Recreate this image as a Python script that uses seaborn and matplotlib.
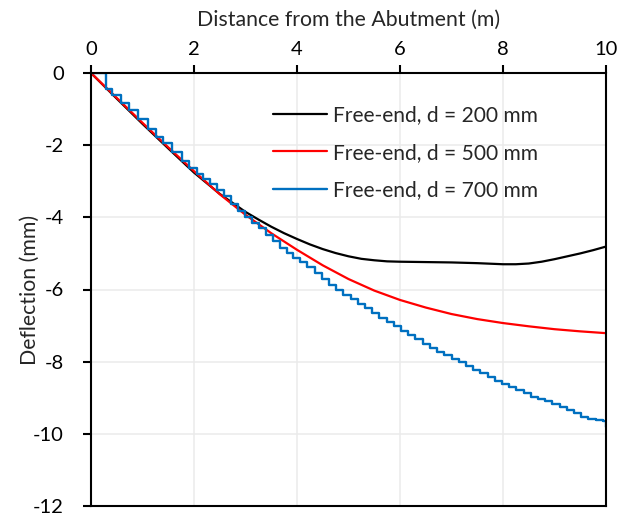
import numpy as np
import pandas as pd
import seaborn as sns
import matplotlib.pyplot as plt

# Deflection along the span for three slab depths (free-end case)
x_200 = [0, 0.5, 1, 1.5, 2, 2.5, 3, 3.25, 3.5, 3.75, 4, 4.25, 4.5, 4.75, 5, 5.25,
         5.5, 5.75, 6, 6.5, 7, 7.5, 8, 8.25, 8.5, 8.75, 9, 9.25, 9.5, 9.75, 10]
y_200 = [0, -0.71, -1.41, -2.09, -2.76, -3.35, -3.85, -4.06, -4.26, -4.44, -4.60,
         -4.75, -4.88, -4.99, -5.08, -5.15, -5.19, -5.22, -5.23, -5.24, -5.25, -5.27,
         -5.30, -5.30, -5.28, -5.23, -5.16, -5.08, -5.00, -4.91, -4.81]

x_500 = [0, 0.5, 1, 1.5, 2, 2.5, 3, 3.5, 4, 4.5, 5, 5.5, 6, 6.5, 7, 7.5, 8, 8.5,
         9, 9.5, 10]
y_500 = [0, -0.69, -1.38, -2.06, -2.72, -3.36, -3.93, -4.44, -4.90, -5.33, -5.71,
         -6.03, -6.29, -6.50, -6.68, -6.82, -6.93, -7.02, -7.10, -7.16, -7.21]

# d = 700 mm output is recorded in discrete increments (stepped trace)
x_700 = [0, 0.30, 0.41, 0.58, 0.74, 0.91, 1.11, 1.27, 1.40, 1.57, 1.76, 1.90, 2.05,
         2.18, 2.31, 2.45, 2.58, 2.72, 2.86, 2.99, 3.12, 3.26, 3.40, 3.53, 3.67, 3.80,
         3.93, 4.06, 4.20, 4.34, 4.48, 4.62, 4.76, 4.90, 5.04, 5.18, 5.32, 5.46, 5.60,
         5.74, 5.88, 6.02, 6.16, 6.30, 6.44, 6.58, 6.72, 6.86, 7.00, 7.14, 7.28, 7.42,
         7.56, 7.70, 7.84, 7.98, 8.12, 8.26, 8.40, 8.54, 8.68, 8.82, 8.96, 9.10, 9.24,
         9.38, 9.52, 9.66, 9.80, 9.94, 10.0]
y_700 = [0, -0.45, -0.60, -0.82, -1.03, -1.27, -1.55, -1.77, -1.95, -2.18, -2.44,
         -2.62, -2.80, -2.93, -3.08, -3.25, -3.42, -3.62, -3.82, -4.00, -4.15, -4.30,
         -4.50, -4.65, -4.85, -5.00, -5.12, -5.25, -5.38, -5.55, -5.72, -5.88, -6.02,
         -6.15, -6.27, -6.40, -6.52, -6.65, -6.78, -6.90, -7.02, -7.14, -7.26, -7.38,
         -7.50, -7.61, -7.72, -7.82, -7.92, -8.02, -8.12, -8.22, -8.32, -8.43, -8.53,
         -8.62, -8.70, -8.78, -8.88, -8.97, -9.04, -9.10, -9.17, -9.25, -9.33, -9.43,
         -9.53, -9.58, -9.62, -9.65, -9.80]

labels = ["Free-end, d = 200 mm", "Free-end, d = 500 mm", "Free-end, d = 700 mm"]
colors = ["#000000", "#FF0000", "#0070C0"]
x_ticks = [0, 2, 4, 6, 8, 10]
y_ticks = [-12, -10, -8, -6, -4, -2, 0]

sns.set_theme(style="white")
plt.rcParams["font.family"] = ["Lato", "DejaVu Sans"]
plt.rcParams["axes.unicode_minus"] = False

fig = plt.figure(figsize=(6.38, 5.15), dpi=100)
ax = fig.add_axes([91 / 638, 1 - 506 / 515, 515 / 638, 433 / 515])

df200 = pd.DataFrame({"x": x_200, "y": y_200})
df500 = pd.DataFrame({"x": x_500, "y": y_500})
df700 = pd.DataFrame({"x": x_700, "y": y_700})

sns.lineplot(data=df200, x="x", y="y", ax=ax, color=colors[0], lw=1.6,
             label=labels[0], estimator=None, sort=False)
sns.lineplot(data=df500, x="x", y="y", ax=ax, color=colors[1], lw=1.6,
             label=labels[1], estimator=None, sort=False)
sns.lineplot(data=df700, x="x", y="y", ax=ax, color=colors[2], lw=1.7,
             label=labels[2], estimator=None, sort=False, drawstyle="steps-post")

ax.set_xlim(0, 10)
ax.set_ylim(-12, 0)
ax.set_xticks(x_ticks)
ax.set_yticks(y_ticks)
ax.xaxis.tick_top()
ax.xaxis.set_label_position("top")

ax.grid(True, color="#EBEBEB", lw=1.1)
ax.set_axisbelow(True)
for s in ax.spines.values():
    s.set_visible(True)
    s.set_color("black")
    s.set_linewidth(1.5)

ax.tick_params(axis="both", direction="out", length=6, width=1.5, colors="black",
               labelsize=14.5, top=True, bottom=False, left=True, right=False)
ax.tick_params(axis="x", pad=5)
ax.tick_params(axis="y", pad=13.5)

ax.set_xlabel("Distance from the Abutment (m)", fontsize=15.3, labelpad=11)
ax.set_ylabel("Deflection (mm)", fontsize=15.3, labelpad=-5)

ax.legend(loc="upper left", bbox_to_anchor=(0.316, 0.969), frameon=False,
          fontsize=15.1, handlelength=2.6, handletextpad=0.3, labelspacing=0.83)

fig.savefig("out.png", dpi=100)
